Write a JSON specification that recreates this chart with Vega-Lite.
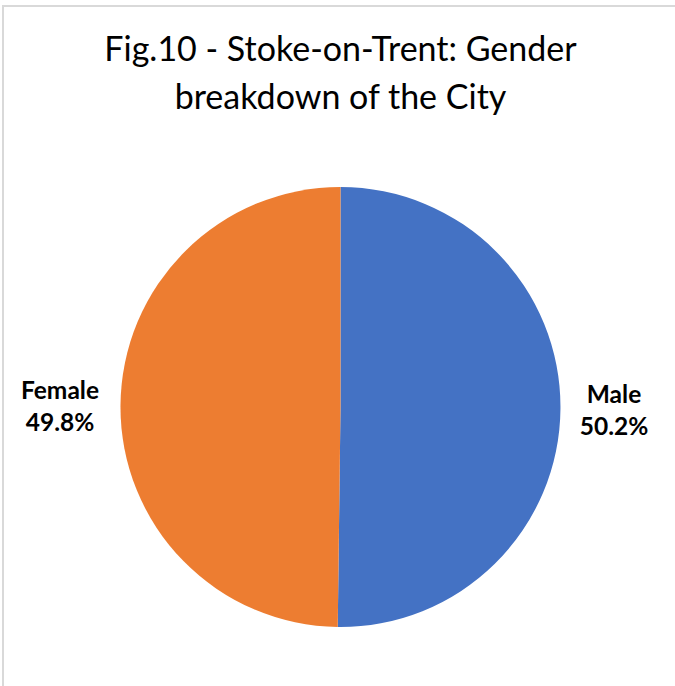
{
  "$schema": "https://vega.github.io/schema/vega-lite/v6.json",
  "autosize": "none",
  "width": 675,
  "height": 802,
  "padding": {"left": 3, "top": 6, "right": 0, "bottom": 0},
  "background": "white",
  "title": {
    "text": ["Fig.10 - Stoke-on-Trent: Gender", "breakdown of the City"],
    "font": "Lato",
    "fontSize": 34,
    "fontWeight": "normal",
    "color": "#000000",
    "lineHeight": 48,
    "anchor": "middle",
    "frame": "group",
    "baseline": "alphabetic",
    "offset": -138
  },
  "config": {"view": {"stroke": "#d9d9d9", "strokeWidth": 2}},
  "datasets": {
    "shares": [
      {"gender": "Male", "share": 0.502},
      {"gender": "Female", "share": 0.498}
    ],
    "frame": [{"name": "border"}]
  },
  "layer": [
    {
      "data": {"name": "frame"},
      "mark": {"type": "rect", "fill": null, "fillOpacity": 0, "stroke": "#d9d9d9", "strokeWidth": 2},
      "encoding": {}
    },
    {
      "data": {"name": "shares"},
      "mark": {"type": "arc", "radius": 220},
      "encoding": {
        "theta": {"field": "share", "type": "quantitative", "stack": true},
        "order": {"field": "gender", "type": "nominal", "sort": "descending"},
        "color": {
          "field": "gender",
          "type": "nominal",
          "scale": {"domain": ["Male", "Female"], "range": ["#4472C4", "#ED7D31"]},
          "legend": null
        }
      }
    },
    {
      "data": {"name": "shares"},
      "mark": {"type": "text", "radius": 277, "dx": -3.5, "dy": -13, "font": "Lato", "fontWeight": "bold", "fontSize": 24.5, "color": "#000000", "baseline": "middle"},
      "encoding": {
        "theta": {"field": "share", "type": "quantitative", "stack": true},
        "order": {"field": "gender", "type": "nominal", "sort": "descending"},
        "text": {"field": "gender", "type": "nominal"}
      }
    },
    {
      "data": {"name": "shares"},
      "mark": {"type": "text", "radius": 277, "dx": -3.5, "dy": 19, "font": "Lato", "fontWeight": "bold", "fontSize": 24.5, "color": "#000000", "baseline": "middle"},
      "encoding": {
        "theta": {"field": "share", "type": "quantitative", "stack": true},
        "order": {"field": "gender", "type": "nominal", "sort": "descending"},
        "text": {"field": "share", "type": "quantitative", "format": ".1%"}
      }
    }
  ]
}
